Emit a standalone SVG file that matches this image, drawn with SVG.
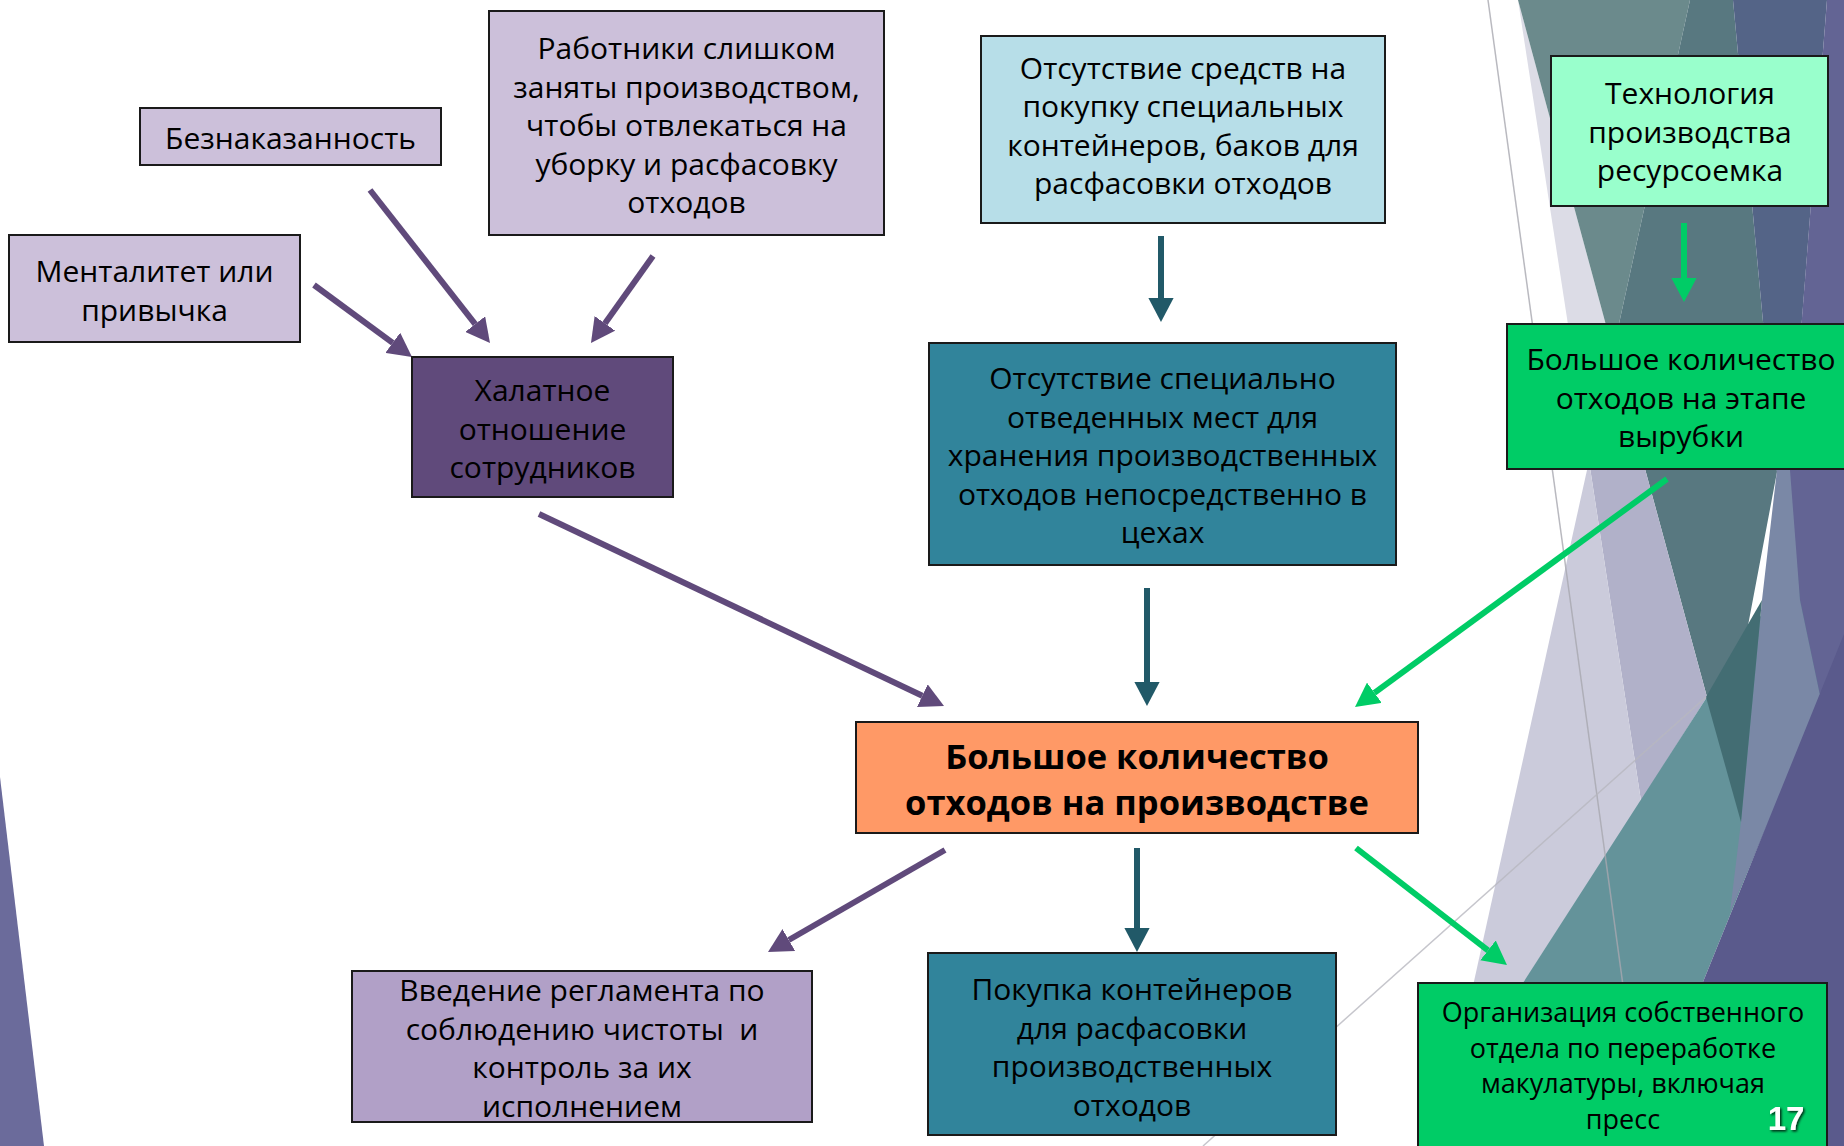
<svg xmlns="http://www.w3.org/2000/svg" width="1844" height="1146" viewBox="0 0 1844 1146">
<defs>
<style>
.box{stroke:#1a1a1a;stroke-width:2}
.t{font-family:"Open Sans","Noto Sans","DejaVu Sans",sans-serif;font-size:30px;fill:#000;text-anchor:middle}
.tb{font-family:"Open Sans","Noto Sans","DejaVu Sans",sans-serif;font-size:34.5px;font-weight:bold;fill:#000;text-anchor:middle}
.ts{font-family:"Open Sans","Noto Sans","DejaVu Sans",sans-serif;font-size:27px;fill:#000;text-anchor:middle}
.ap{stroke:#604a7b;stroke-width:6;fill:none}
.at{stroke:#215968;stroke-width:6;fill:none}
.ag{stroke:#00cc66;stroke-width:6;fill:none}
</style>
<marker id="mp" markerUnits="strokeWidth" markerWidth="4" markerHeight="4.2" refX="0" refY="2.1" orient="auto"><path d="M0,0 L4,2.1 L0,4.2 z" fill="#604a7b"/></marker>
<marker id="mt" markerUnits="strokeWidth" markerWidth="4" markerHeight="4.2" refX="0" refY="2.1" orient="auto"><path d="M0,0 L4,2.1 L0,4.2 z" fill="#215968"/></marker>
<marker id="mg" markerUnits="strokeWidth" markerWidth="4" markerHeight="4.2" refX="0" refY="2.1" orient="auto"><path d="M0,0 L4,2.1 L0,4.2 z" fill="#00cc66"/></marker>
<filter id="sh" x="-20%" y="-20%" width="140%" height="140%"><feDropShadow dx="1.5" dy="1.5" stdDeviation="1" flood-color="#000" flood-opacity="0.8"/></filter>
</defs>
<rect width="1844" height="1146" fill="#ffffff"/>
<g id="background">
<polygon points="0,777 44,1146 0,1146" fill="#6b6b9b"/>
<polygon points="1518,0 1613,351 1589,461" fill="#dcdce6"/>
<polygon points="1518,0 1690,0 1613,351" fill="#6b8a8c"/>
<polygon points="1690,0 1733,0 1777,472 1723,758 1707,697 1613,351" fill="#587880"/>
<polygon points="1733,0 1827,0 1790,472 1777,472" fill="#546487"/>
<polygon points="1613,351 1707,697 1641,801 1589,461" fill="#b1b1c9"/>
<polygon points="1589,461 1641,801 1448,1099" fill="#cbcbdb"/>
<polygon points="1707,697 1844,490 1844,634 1703,982 1637,1146 1418,1146" fill="#64939a"/>
<polygon points="1777,470 1792,470 1800,600 1821,700 1730,912 1741,822 1762,600" fill="#7a88a6"/>
<polygon points="1706,697 1762,600 1741,822" fill="#436d73"/>
<polygon points="1827,0 1844,0 1844,640 1821,700 1800,600 1790,470" fill="#636494"/>
<polygon points="1844,634 1844,1146 1637,1146 1703,982 1793,760" fill="#5a5a8c"/>
<line x1="1488" y1="0" x2="1645" y2="1146" stroke="#a8a8b0" stroke-width="1.5" opacity="0.8"/>
<line x1="1203" y1="1146" x2="1706" y2="697" stroke="#b8b8c0" stroke-width="1.5" opacity="0.8"/>
</g>
<g id="connectors">
<line class="ap" x1="314" y1="285" x2="392.7" y2="342.8" marker-end="url(#mp)"/>
<line class="ap" x1="370" y1="190" x2="475.2" y2="324.1" marker-end="url(#mp)"/>
<line class="ap" x1="653" y1="256" x2="604.9" y2="323.4" marker-end="url(#mp)"/>
<line class="ap" x1="539" y1="514" x2="922.3" y2="695.7" marker-end="url(#mp)"/>
<line class="at" x1="1161" y1="236" x2="1161" y2="298" marker-end="url(#mt)"/>
<line class="at" x1="1147" y1="588" x2="1147" y2="682" marker-end="url(#mt)"/>
<line class="ag" x1="1667" y1="479" x2="1374.4" y2="692.8" marker-end="url(#mg)"/>
<line class="ag" x1="1684" y1="223" x2="1684" y2="278" marker-end="url(#mg)"/>
<line class="ap" x1="945" y1="850" x2="788.8" y2="940" marker-end="url(#mp)"/>
<line class="at" x1="1137" y1="848" x2="1137" y2="928" marker-end="url(#mt)"/>
<line class="ag" x1="1356" y1="848" x2="1488" y2="950.4" marker-end="url(#mg)"/>
</g>
<g id="n-beznakazannost">
<rect class="box" x="140" y="108" width="301" height="57" fill="#ccc0da"/>
<text class="t" x="290.5" y="149">Безнаказанность</text>
</g>
<g id="n-mentalitet">
<rect class="box" x="9" y="235" width="291" height="107" fill="#ccc0da"/>
<text class="t" x="154.5" y="281.5">Менталитет или</text>
<text class="t" x="154.5" y="320.5">привычка</text>
</g>
<g id="n-rabotniki">
<rect class="box" x="489" y="11" width="395" height="224" fill="#ccc0da"/>
<text class="t" x="686.5" y="59">Работники слишком</text>
<text class="t" x="686.5" y="97.5">заняты производством,</text>
<text class="t" x="686.5" y="136">чтобы отвлекаться на</text>
<text class="t" x="686.5" y="174.5">уборку и расфасовку</text>
<text class="t" x="686.5" y="213">отходов</text>
</g>
<g id="n-khalatnoe">
<rect class="box" x="412" y="357" width="261" height="140" fill="#604a7b"/>
<text class="t" x="542.5" y="401">Халатное</text>
<text class="t" x="542.5" y="439.5">отношение</text>
<text class="t" x="542.5" y="478">сотрудников</text>
</g>
<g id="n-sredstva">
<rect class="box" x="981" y="36" width="404" height="187" fill="#b7dee8"/>
<text class="t" x="1183" y="78.5">Отсутствие средств на</text>
<text class="t" x="1183" y="117">покупку специальных</text>
<text class="t" x="1183" y="155.5">контейнеров, баков для</text>
<text class="t" x="1183" y="194">расфасовки отходов</text>
</g>
<g id="n-mesta">
<rect class="box" x="929" y="343" width="467" height="222" fill="#31849b"/>
<text class="t" x="1162.5" y="389">Отсутствие специально</text>
<text class="t" x="1162.5" y="427.5">отведенных мест для</text>
<text class="t" x="1162.5" y="466">хранения производственных</text>
<text class="t" x="1162.5" y="504.5">отходов непосредственно в</text>
<text class="t" x="1162.5" y="543">цехах</text>
</g>
<g id="n-tekhnologiya">
<rect class="box" x="1551" y="56" width="277" height="150" fill="#99ffcc"/>
<text class="t" x="1690" y="104">Технология</text>
<text class="t" x="1690" y="142.5">производства</text>
<text class="t" x="1690" y="181">ресурсоемка</text>
</g>
<g id="n-vyrubka">
<rect class="box" x="1507" y="324" width="350" height="145" fill="#00cc66"/>
<text class="t" x="1681" y="370">Большое количество</text>
<text class="t" x="1681" y="408.5">отходов на этапе</text>
<text class="t" x="1681" y="447">вырубки</text>
</g>
<g id="n-center">
<rect class="box" x="856" y="722" width="562" height="111" fill="#ff9966"/>
<text class="tb" x="1137" y="768.5">Большое количество</text>
<text class="tb" x="1137" y="814.5">отходов на производстве</text>
</g>
<g id="n-reglament">
<rect class="box" x="352" y="971" width="460" height="151" fill="#b1a0c7"/>
<text class="t" x="582" y="1001">Введение регламента по</text>
<text class="t" x="582" y="1039.5">соблюдению чистоты&#160; и</text>
<text class="t" x="582" y="1078">контроль за их</text>
<text class="t" x="582" y="1116.5">исполнением</text>
</g>
<g id="n-pokupka">
<rect class="box" x="928" y="953" width="408" height="182" fill="#31849b"/>
<text class="t" x="1132" y="1000">Покупка контейнеров</text>
<text class="t" x="1132" y="1038.5">для расфасовки</text>
<text class="t" x="1132" y="1077">производственных</text>
<text class="t" x="1132" y="1115.5">отходов</text>
</g>
<g id="n-organizatsiya">
<rect class="box" x="1418" y="983" width="409" height="170" fill="#00cc66"/>
<text class="ts" x="1623" y="1022">Организация собственного</text>
<text class="ts" x="1623" y="1057.5">отдела по переработке</text>
<text class="ts" x="1623" y="1093">макулатуры, включая</text>
<text class="ts" x="1623" y="1128.5">пресс</text>
</g>
<text x="1786" y="1130" font-family="Liberation Sans, Arial, sans-serif" font-size="33" font-weight="bold" fill="#ffffff" text-anchor="middle" filter="url(#sh)">17</text>
</svg>
